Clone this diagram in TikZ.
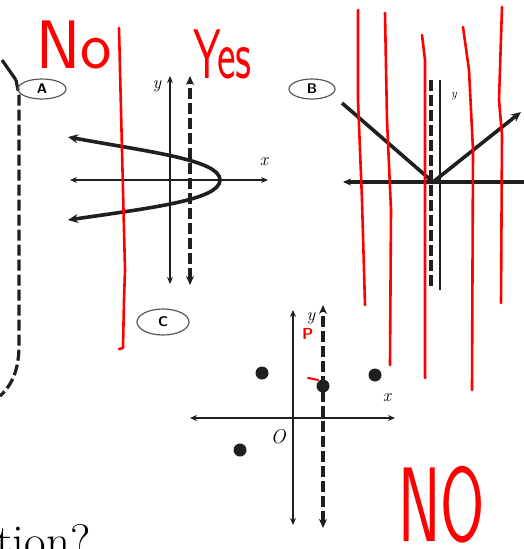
\documentclass[tikz,border=0pt]{standalone}
\usepackage{tikz}
\usetikzlibrary{arrows.meta,shapes.geometric}

\begin{document}
\begin{tikzpicture}[x=1pt,y=-1pt,font=\rmfamily]

% =========================
% Color Definitions
% =========================
\colorlet{ink}{black!88}
\colorlet{tagink}{black!65}
\colorlet{pen}{red}

\useasboundingbox[fill=white] (0,0) rectangle (524,549);

% =========================
% Styles
% =========================
\tikzset{
    axis/.style={
        ink,
        line width=1.6pt,
        {Stealth[length=7pt,width=6pt]}-{Stealth[length=7pt,width=6pt]}
    },
    testline/.style={
        ink,
        line width=3.4pt,
        dash pattern=on 11pt off 4pt,
        {Stealth[length=9pt,width=8pt]}-{Stealth[length=9pt,width=8pt]}
    },
    graphline/.style={ink, line width=3.6pt},
    tag/.style={
        draw=tagink,
        ellipse,
        line width=1.2pt,
        inner sep=0pt,
        font=\sffamily\bfseries\fontsize{14}{14}\selectfont
    },
    axlabel/.style={font=\itshape\fontsize{18}{18}\selectfont, inner sep=0pt},
    scribble/.style={pen, line width=2.6pt, line cap=round, line join=round},
    note/.style={pen, inner sep=0pt, anchor=base west, font=\sffamily}
}

% =========================
% Left bracket
% =========================
\coordinate (brTop) at (2,60);
\coordinate (brKnee) at (16,80);
\coordinate (brEnd) at (0,396);
\draw[ink, line width=3.2pt] (brTop) -- (brKnee);
\draw[ink, line width=3.2pt, dash pattern=on 11pt off 4pt]
    (brKnee) -- (19,95) -- (19,345) .. controls (19,370) and (12,385) .. (brEnd);

% =========================
% Graph A
% =========================
\node[tag, minimum width=48pt, minimum height=20pt] (tagA) at (42,89) {A};

\draw[axis] (70,180) -- (268,180);
\draw[axis] (170,284) -- (170,76);
\node[axlabel] (yA) at (157,86) {y};
\node[axlabel] (xA) at (264,162) {x};

\draw[testline] (190,285) -- (190,76);

% parabola opening left
\coordinate (pTop) at (68,137);
\coordinate (pVert) at (220,180);
\coordinate (pBot) at (68,220);
\draw[graphline, {Stealth[length=10pt,width=9pt]}-{Stealth[length=10pt,width=9pt]}]
    (pTop) .. controls (150,152) and (220,160) .. (pVert)
           .. controls (220,200) and (150,208) .. (pBot);

% =========================
% Graph B
% =========================
\node[tag, minimum width=46pt, minimum height=20pt] (tagB) at (312,89) {B};

\draw[ink, line width=3.6pt, {Stealth[length=8pt,width=7pt]}-] (343,182) -- (524,182);
\draw[ink, line width=1.6pt] (440,80) -- (440,290);
\draw[ink, line width=3.4pt, dash pattern=on 11pt off 4pt] (431,80) -- (431,288);
\node[axlabel, font=\itshape\fontsize{12}{12}\selectfont] (yB) at (454,96) {y};

\coordinate (vLeft) at (342,103);
\coordinate (vTip) at (433,182);
\coordinate (vRight) at (521,112);
\draw[graphline, -{Stealth[length=10pt,width=9pt]}] (vLeft) -- (vTip) -- (vRight);

% =========================
% Graph C
% =========================
\node[tag, minimum width=52pt, minimum height=26pt] (tagC) at (163,322) {C};

\draw[axis] (190,418) -- (395,418);
\draw[axis] (293,525) -- (293,310);
\node[axlabel] (yC) at (311,318) {y};
\node[axlabel] (xC) at (387,398) {x};
\node[axlabel, font=\itshape\fontsize{20}{20}\selectfont] (oC) at (278,437) {O};

\draw[testline] (323,528) -- (323,305);

\foreach \px/\py in {262/373, 375/375, 323/386, 240/450}
    \fill[ink] (\px,\py) circle (6.5pt);

% =========================
% Question text (cut off)
% =========================
\node[anchor=base west, inner sep=0pt, font=\fontsize{47}{47}\selectfont] (question) at (-4,557) {tion?};

% =========================
% Red marks
% =========================
\node[note, font=\sffamily\fontsize{70}{70}\selectfont] (markNo) at (36,68) {\scalebox{0.95}[0.98]{No}};
\node[note, font=\sffamily\fontsize{54}{54}\selectfont] (markYes) at (193,78) {\scalebox{0.82}[1.3]{Yes}};
\node[note, font=\sffamily\fontsize{100}{100}\selectfont] (markNO) at (398,541) {\scalebox{0.64}[1.06]{NO}};
\node[note, font=\sffamily\bfseries\fontsize{16}{16}\selectfont] (markP) at (302,339) {P};

\draw[scribble] (119,28) -- (121,110) -- (125,270) -- (124,300) -- (123,348) -- (119,349);
\draw[scribble] (358,10) -- (358,100) -- (362,200) -- (365,305);
\draw[scribble] (385,13) -- (387,120) -- (391,210) -- (390,365);
\draw[scribble] (422,35) -- (425,60) -- (425,378);
\draw[scribble] (463,27) -- (469,70) -- (473,150) -- (472,390);
\draw[scribble] (502,7) -- (499,100) -- (502,135) -- (501,303);
\draw[scribble, line width=2pt] (308,378) -- (318,380);

\end{tikzpicture}
\end{document}
